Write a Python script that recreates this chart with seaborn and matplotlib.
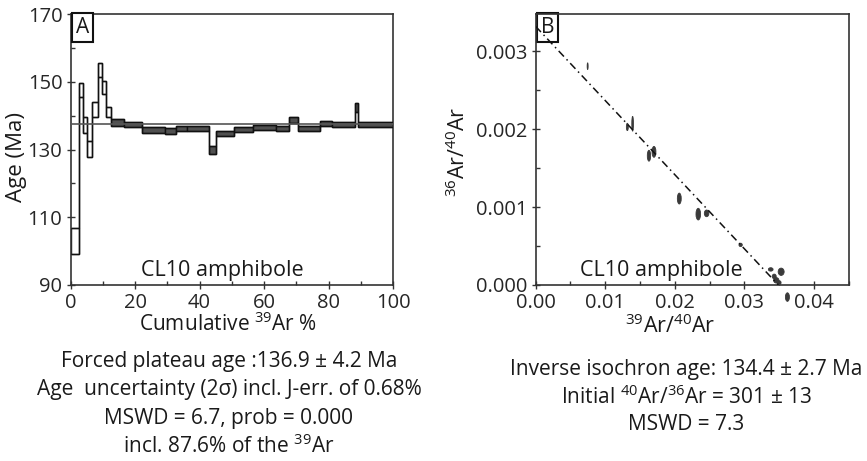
import numpy as np
import matplotlib
matplotlib.use("Agg")
import matplotlib.pyplot as plt
from matplotlib.patches import Ellipse
from matplotlib.ticker import MultipleLocator, FixedLocator, FormatStrFormatter
import seaborn as sns

# ---------------- Data: panel A (age spectrum) ----------------
step_edges = [0.0, 2.7, 3.9, 5.2, 6.7, 8.6, 9.8, 11.0, 12.4, 16.5, 22.2, 29.3,
              32.6, 36.0, 42.9, 45.0, 50.7, 56.5, 63.7, 67.8, 70.5, 77.3, 81.2,
              88.1, 89.2, 100.0]
age_low = [99.1, 145.5, 134.8, 127.9, 139.5, 151.5, 146.3, 139.5, 137.0, 136.7,
           135.0, 134.5, 135.4, 135.6, 128.7, 134.1, 135.1, 135.8, 135.6, 137.9,
           135.6, 137.0, 136.6, 141.2, 136.7]
age_high = [106.9, 149.5, 139.7, 132.4, 144.1, 155.4, 150.2, 142.6, 139.0, 138.2,
            136.6, 136.3, 137.0, 137.0, 131.0, 135.6, 136.5, 137.2, 137.0, 139.7,
            137.0, 138.5, 138.0, 143.8, 138.0]
in_plateau = [False] * 8 + [True] * 17
plateau_age = 137.4
age_ticks = [90, 110, 130, 150, 170]
age_minor_ticks = [100, 120, 140, 160]

# ---------------- Data: panel B (inverse isochron) ----------------
ar39_ar40 = [0.00747, 0.01318, 0.01394, 0.01629, 0.01701, 0.02065, 0.02338,
             0.02458, 0.02947, 0.0338, 0.0343, 0.0346, 0.0350, 0.0353, 0.0362]
ar36_ar40 = [0.00281, 0.00203, 0.00207, 0.00166, 0.00171, 0.00111, 0.00091,
             0.00092, 0.000515, 0.00020, 0.00011, 0.00006, 0.00003, 0.00017,
             -0.000155]
ar39_ar40_err = [0.00007, 0.00014, 0.00012, 0.00024, 0.00028, 0.00028, 0.00033,
                 0.00033, 0.00024, 0.00034, 0.00029, 0.00038, 0.00029, 0.00043,
                 0.00029]
ar36_ar40_err = [0.000043, 0.000047, 0.000095, 0.00007, 0.00007, 0.00007,
                 0.000075, 0.000043, 0.000022, 0.000022, 0.00003, 0.000035,
                 0.000026, 0.000047, 0.000055]
isochron_x = [0.0, 0.0349]
isochron_y = [0.00332, 0.0]

text_A = ["Forced plateau age :136.9 \u00b1 4.2 Ma",
          "Age  uncertainty (2\u03c3) incl. J-err. of 0.68%",
          "MSWD = 6.7, prob = 0.000",
          "incl. 87.6% of the $^{39}$Ar"]
text_B = ["Inverse isochron age: 134.4 \u00b1 2.7 Ma",
          "Initial $^{40}$Ar/$^{36}$Ar = 301 \u00b1 13",
          "MSWD = 7.3"]

# ---------------- Style ----------------
sns.set_style("ticks")
plt.rcParams['font.family'] = ['Open Sans', 'DejaVu Sans']
plt.rcParams['mathtext.fontset'] = 'custom'
plt.rcParams['mathtext.rm'] = 'Open Sans'
plt.rcParams['mathtext.it'] = 'Open Sans:italic'
plt.rcParams['mathtext.bf'] = 'Open Sans:bold'
plt.rcParams['text.color'] = '#1a1a1a'

W, H = 867, 461
fig = plt.figure(figsize=(W / 100, H / 100), dpi=100)


def px_axes(x0, y0, x1, y1):
    return fig.add_axes([x0 / W, 1 - y1 / H, (x1 - x0) / W, (y1 - y0) / H])


spine_col = '#333333'
TICK_FS = 14.5
LABEL_FS = 15.5
BODY_FS = 15

# ---------------- Panel A ----------------
A_x0, A_x1, A_y0, A_y1 = 70.7, 393, 14, 285
axA = px_axes(A_x0, A_y0, A_x1, A_y1)
edges = np.array(step_edges)
lo = np.array(age_low)
hi = np.array(age_high)
cols = ['#505050' if p else 'white' for p in in_plateau]
axA.bar(edges[:-1], hi - lo, width=np.diff(edges), bottom=lo, align='edge',
        color=cols, edgecolor='#111111', linewidth=1.0, zorder=2)
axA.stairs(hi, edges, baseline=None, color='#111111', lw=1.0, zorder=3)
axA.stairs(lo, edges, baseline=None, color='#111111', lw=1.0, zorder=3)
sns.lineplot(x=[0, 100], y=[plateau_age, plateau_age], ax=axA,
             color='#555555', lw=1.2, zorder=4)
axA.set_xlim(0, 100)
axA.set_ylim(90, 170)
axA.xaxis.set_major_locator(MultipleLocator(20))
axA.xaxis.set_minor_locator(MultipleLocator(10))
axA.yaxis.set_major_locator(FixedLocator(age_ticks))
axA.yaxis.set_minor_locator(FixedLocator(age_minor_ticks))
axA.set_ylabel("Age (Ma)", fontsize=16)
axA.set_xlabel("Cumulative $^{39}$Ar %", fontsize=15)
axA.yaxis.set_label_coords((27 - A_x0) / (A_x1 - A_x0), (A_y1 - 157) / (A_y1 - A_y0))
axA.xaxis.set_label_coords((228 - A_x0) / (A_x1 - A_x0), (A_y1 - 312) / (A_y1 - A_y0))
axA.text(0.036, 0.95, "A", transform=axA.transAxes, ha='center', va='center',
         fontsize=15, zorder=6,
         bbox=dict(boxstyle='square,pad=0.18', fc='white', ec='#111111', lw=1.5))
axA.text(0.47, 0.055, "CL10 amphibole", transform=axA.transAxes, ha='center',
         va='center', fontsize=15.5, zorder=6)

# ---------------- Panel B ----------------
B_x0, B_x1, B_y0, B_y1 = 535.7, 849.3, 14, 285
axB = px_axes(B_x0, B_y0, B_x1, B_y1)
for x, y, ex, ey in zip(ar39_ar40, ar36_ar40, ar39_ar40_err, ar36_ar40_err):
    axB.add_patch(Ellipse((x, y), 2 * ex, 2 * ey, facecolor='#3a3a3a',
                          edgecolor='#3a3a3a', lw=0.6, clip_on=(y >= 0), zorder=3))
sns.lineplot(x=isochron_x, y=isochron_y, ax=axB, color='#111111', lw=1.1, zorder=4)
axB.lines[-1].set_linestyle((0, (5, 2.5, 1, 2.5)))
axB.set_xlim(0, 0.0451)
axB.set_ylim(0, 0.00348)
axB.xaxis.set_major_locator(MultipleLocator(0.01))
axB.xaxis.set_minor_locator(MultipleLocator(0.005))
axB.yaxis.set_major_locator(MultipleLocator(0.001))
axB.yaxis.set_minor_locator(MultipleLocator(0.0005))
axB.xaxis.set_major_formatter(FormatStrFormatter('%.2f'))
axB.yaxis.set_major_formatter(FormatStrFormatter('%.3f'))
axB.set_ylabel("$^{36}$Ar/$^{40}$Ar", fontsize=LABEL_FS)
axB.set_xlabel("$^{39}$Ar/$^{40}$Ar", fontsize=LABEL_FS)
axB.yaxis.set_label_coords((470 - B_x0) / (B_x1 - B_x0), (B_y1 - 152) / (B_y1 - B_y0))
axB.xaxis.set_label_coords((670 - B_x0) / (B_x1 - B_x0), (B_y1 - 314) / (B_y1 - B_y0))
axB.text(0.039, 0.95, "B", transform=axB.transAxes, ha='center', va='center',
         fontsize=15, zorder=2,
         bbox=dict(boxstyle='square,pad=0.18', fc='none', ec='#111111', lw=1.5))
axB.text(0.40, 0.055, "CL10 amphibole", transform=axB.transAxes, ha='center',
         va='center', fontsize=15.5, zorder=6)

for ax in (axA, axB):
    for s in ax.spines.values():
        s.set_color(spine_col)
        s.set_linewidth(1.2)
    ax.tick_params(which='major', direction='inout', length=6, width=1,
                   color=spine_col, labelsize=TICK_FS, pad=3)
    ax.tick_params(which='minor', direction='in', length=3, width=1,
                   color=spine_col)
    ax.tick_params(axis='x', which='major', pad=3)
    ax.xaxis.label.set_color('#1a1a1a')
    ax.yaxis.label.set_color('#1a1a1a')

# ---------------- Text blocks ----------------
for i, t in enumerate(text_A):
    fig.text(229 / W, 1 - (361 + 28.5 * i) / H, t, ha='center', va='center',
             fontsize=BODY_FS)
yB = [369, 397, 424]
for t, y in zip(text_B, yB):
    fig.text(686 / W, 1 - y / H, t, ha='center', va='center', fontsize=BODY_FS)

fig.savefig("out.png", dpi=100)
